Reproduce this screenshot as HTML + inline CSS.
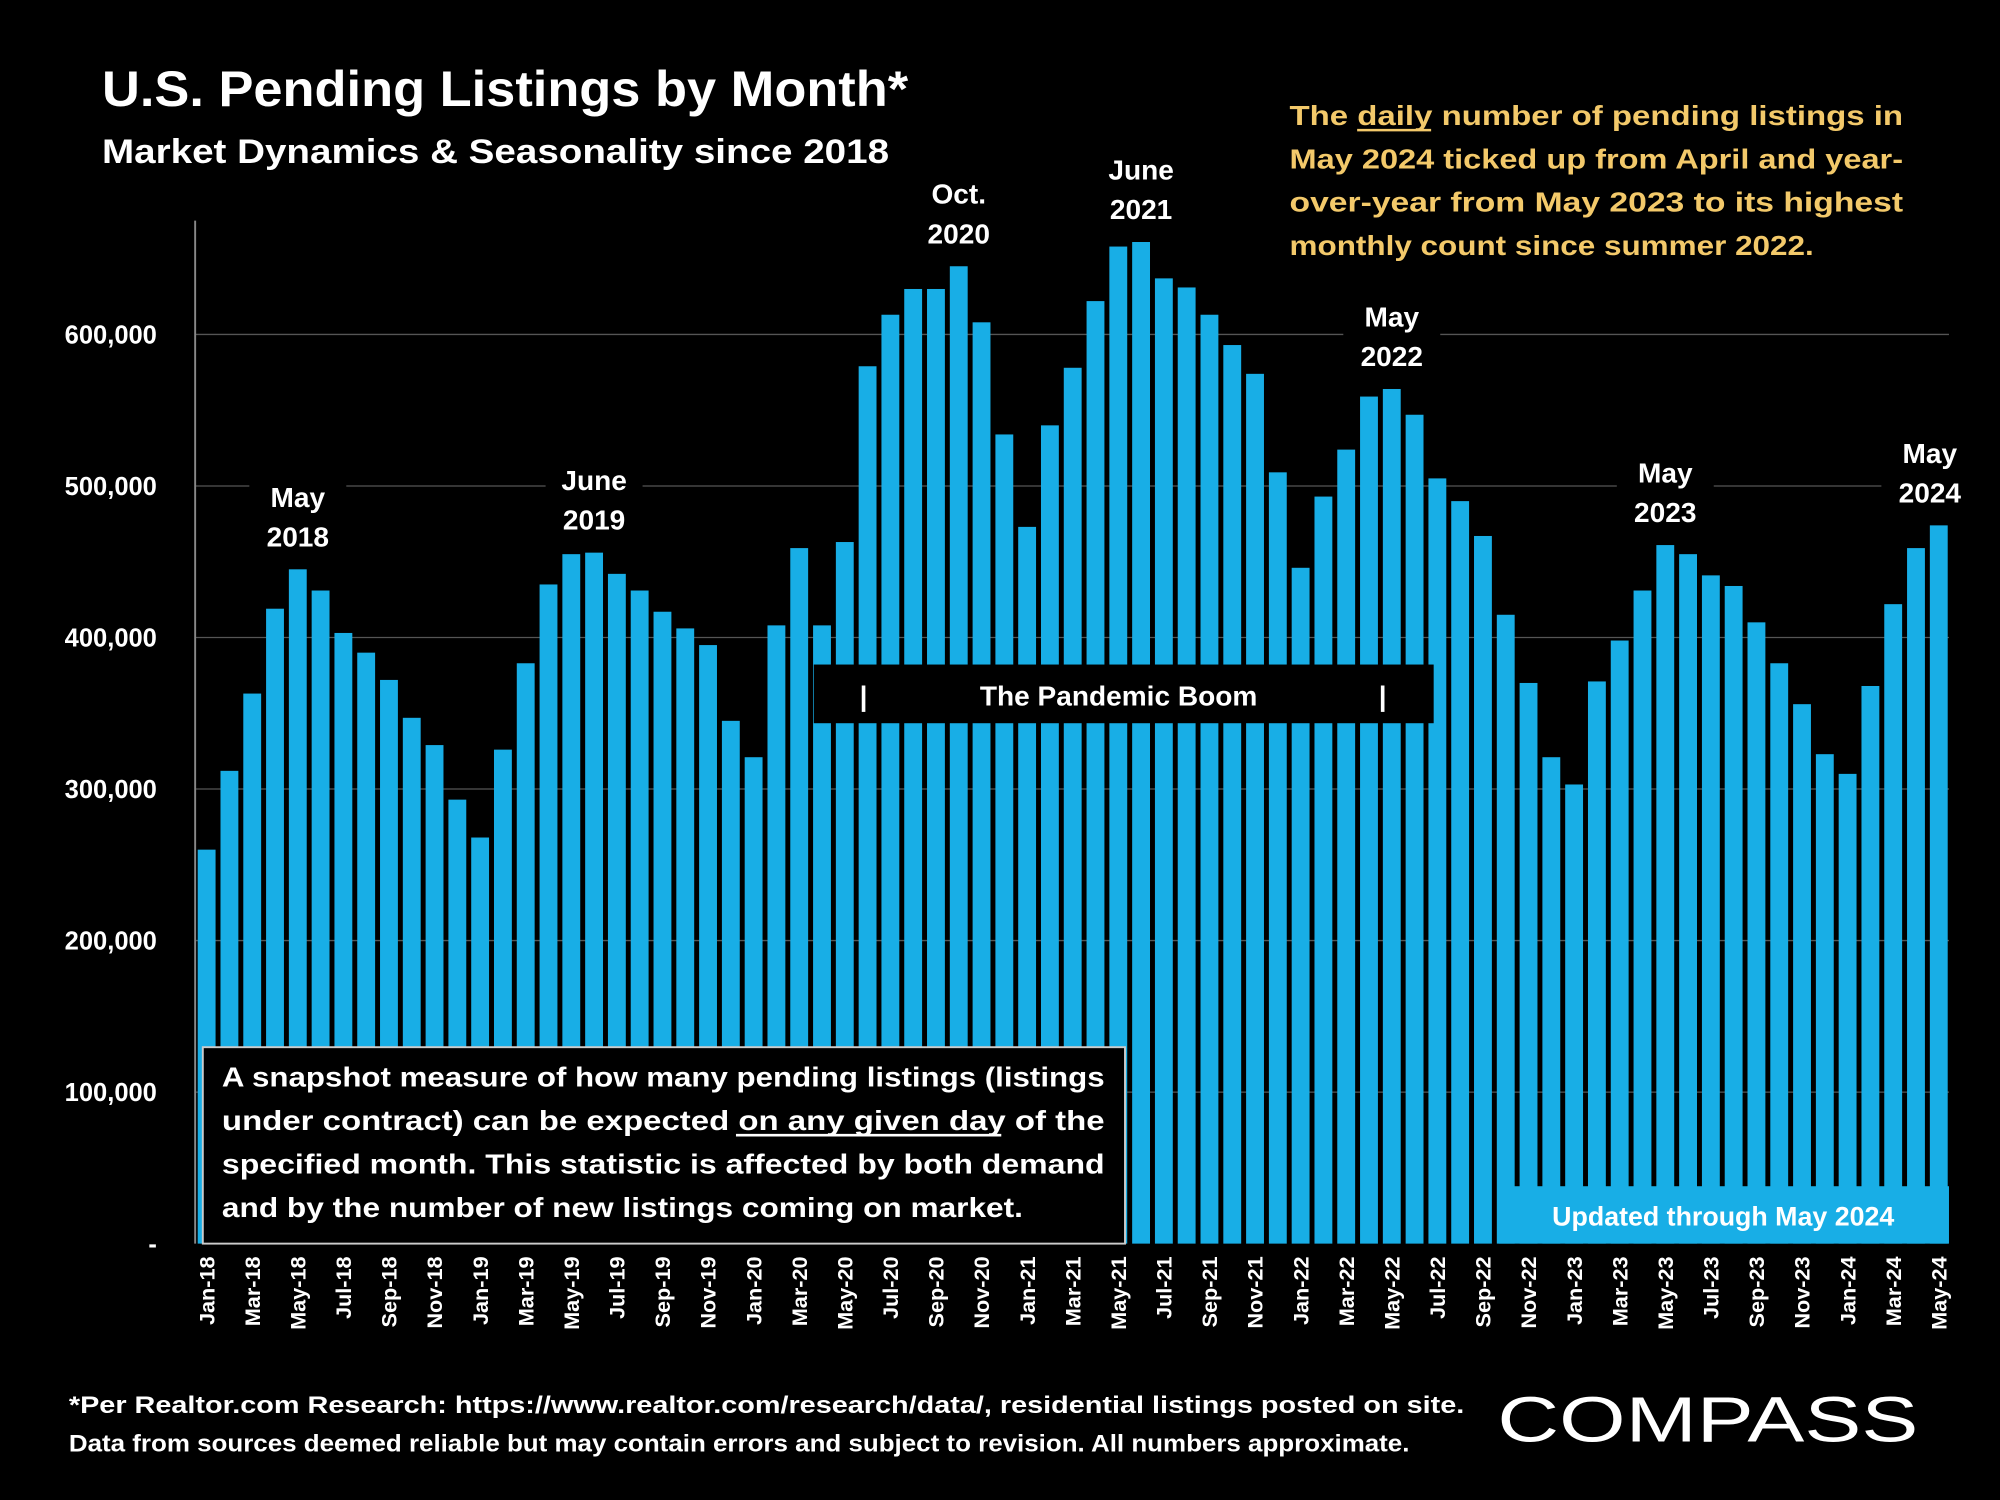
<!DOCTYPE html>
<html><head><meta charset="utf-8"><style>
html,body{margin:0;padding:0;background:#000;}
svg{display:block;font-family:"Liberation Sans",sans-serif;font-weight:bold;}
</style></head><body>
<svg id="chart" width="2000" height="1500" viewBox="0 0 1568 1176" xmlns="http://www.w3.org/2000/svg">
<rect width="1568" height="1176" fill="#000"/>
<text x="80" y="83" fill="#fff" font-size="39" textLength="632" lengthAdjust="spacingAndGlyphs">U.S. Pending Listings by Month*</text>
<text x="80" y="128" fill="#fff" font-size="27" textLength="617" lengthAdjust="spacingAndGlyphs">Market Dynamics &amp; Seasonality since 2018</text>
<g fill="#f3c96a" font-size="22">
<text x="1011" y="98" textLength="481" lengthAdjust="spacingAndGlyphs">The daily number of pending listings in</text>
<line x1="1064" y1="102" x2="1122" y2="102" stroke="#f3c96a" stroke-width="2"/>
<text x="1011" y="132" textLength="481" lengthAdjust="spacingAndGlyphs">May 2024 ticked up from April and year-</text>
<text x="1011" y="166" textLength="481" lengthAdjust="spacingAndGlyphs">over-year from May 2023 to its highest</text>
<text x="1011" y="200" textLength="411" lengthAdjust="spacingAndGlyphs">monthly count since summer 2022.</text>
</g>
<g id="grid"></g>
<line x1="153" y1="173" x2="153" y2="975" stroke="#888" stroke-width="1.5"/>
<g id="bars"></g>
<g id="yticks" fill="#fff" font-size="20"></g>
<g id="xticks" fill="#fff" font-size="17"></g>
<g id="annos" fill="#fff" font-size="22"></g>
<g>
<rect x="638" y="521" width="486" height="46" fill="#000"/>
<text x="677" y="553" fill="#fff" font-size="22" text-anchor="middle">|</text>
<text x="877" y="553" fill="#fff" font-size="22" text-anchor="middle">The Pandemic Boom</text>
<text x="1084" y="553" fill="#fff" font-size="22" text-anchor="middle">|</text>
</g>
<g>
<rect x="159" y="821" width="723" height="154" fill="#000" stroke="#ccc" stroke-width="1.5"/>
<g fill="#fff" font-size="22">
<text x="174" y="852" textLength="692" lengthAdjust="spacingAndGlyphs">A snapshot measure of how many pending listings (listings</text>
<text x="174" y="886" textLength="692" lengthAdjust="spacingAndGlyphs">under contract) can be expected on any given day of the</text>
<line x1="577" y1="890" x2="785" y2="890" stroke="#fff" stroke-width="2"/>
<text x="174" y="920" textLength="692" lengthAdjust="spacingAndGlyphs">specified month.  This statistic is affected by both demand</text>
<text x="174" y="954" textLength="628" lengthAdjust="spacingAndGlyphs">and by the number of new listings coming on market.</text>
</g></g>
<g>
<rect x="1175" y="930" width="353" height="45" fill="#18aee6"/>
<text x="1351" y="961" fill="#fff" font-size="21" text-anchor="middle">Updated through May 2024</text>
</g>
<g fill="#fff" font-size="19">
<text x="54" y="1108" textLength="1094" lengthAdjust="spacingAndGlyphs">*Per Realtor.com Research:  https://www.realtor.com/research/data/, residential listings posted on site.</text>
<text x="54" y="1138" textLength="1051" lengthAdjust="spacingAndGlyphs">Data from sources deemed reliable but may contain errors and subject to revision. All numbers approximate.</text>
</g>
<text x="1174" y="1130" fill="#fff" font-size="50" font-weight="normal" textLength="330" lengthAdjust="spacingAndGlyphs">COMPASS</text>
</svg>
<script>
const categories=[];
const yrs=['18','19','20','21','22','23','24'];
const mons=['Jan','Feb','Mar','Apr','May','Jun','Jul','Aug','Sep','Oct','Nov','Dec'];
for(const y of yrs){for(const m of mons){categories.push(m+'-'+y);}}
categories.length=77;
const values=[260,312,363,419,445,431,403,390,372,347,329,293,
268,326,383,435,455,456,442,431,417,406,395,345,
321,408,459,408,463,579,613,630,630,645,608,534,
473,540,578,622,658,661,637,631,613,593,574,509,
446,493,524,559,564,547,505,490,467,415,370,321,
303,371,398,431,461,455,441,434,410,383,356,323,
310,368,422,459,474];
const yTicks=[0,100,200,300,400,500,600];
const yTickLabels=['-','100,000','200,000','300,000','400,000','500,000','600,000'];
const annoIdx=[4,17,33,41,52,64,76];
const annoLines=[['May','2018'],['June','2019'],['Oct.','2020'],['June','2021'],['May','2022'],['May','2023'],['May','2024']];
const NS='http://www.w3.org/2000/svg';
const y0=975, pxPer=1.188;
const yS=v=>y0-v*pxPer;
const x0=162, step=(1520-162)/76;
const xS=i=>x0+i*step;
const bw=14;
function mk(t,a,p){const e=document.createElementNS(NS,t);for(const k in a)e.setAttribute(k,a[k]);p.appendChild(e);return e;}
const grid=document.getElementById('grid'),bars=document.getElementById('bars'),yt=document.getElementById('yticks'),xt=document.getElementById('xticks'),an=document.getElementById('annos');
yTicks.forEach((v,i)=>{
 if(v>0){const l=mk('line',{x1:153,x2:1528,y1:yS(v),y2:yS(v),stroke:'#555','stroke-width':1},grid);
 
 }
 const t=mk('text',{x:123,y:yS(v)+7,'text-anchor':'end'},yt);t.textContent=yTickLabels[i];
 
 
});
values.forEach((v,i)=>{
 const r=mk('rect',{x:xS(i)-bw/2,y:yS(v),width:bw,height:v*pxPer,fill:'#18aee6'},bars);
 
 
});
categories.forEach((c,i)=>{
 if(i%2)return;
 const x=xS(i)+6,y=985;
 const t=mk('text',{x:x,y:y,'text-anchor':'end',transform:`rotate(-90 ${x} ${y})`},xt);t.textContent=c;
 
 
});
annoIdx.forEach((idx,k)=>{
 const cx=Math.min(xS(idx),1513), top=yS(values[idx])-49;
 const g=mk('g',{},an);
 
 
 mk('rect',{x:cx-38,y:top-24,width:76,height:66,fill:'#000'},g);
 annoLines[k].forEach((s,j)=>{const t=mk('text',{x:cx,y:top+j*31,'text-anchor':'middle'},g);t.textContent=s;});
});
</script>
</body></html>
